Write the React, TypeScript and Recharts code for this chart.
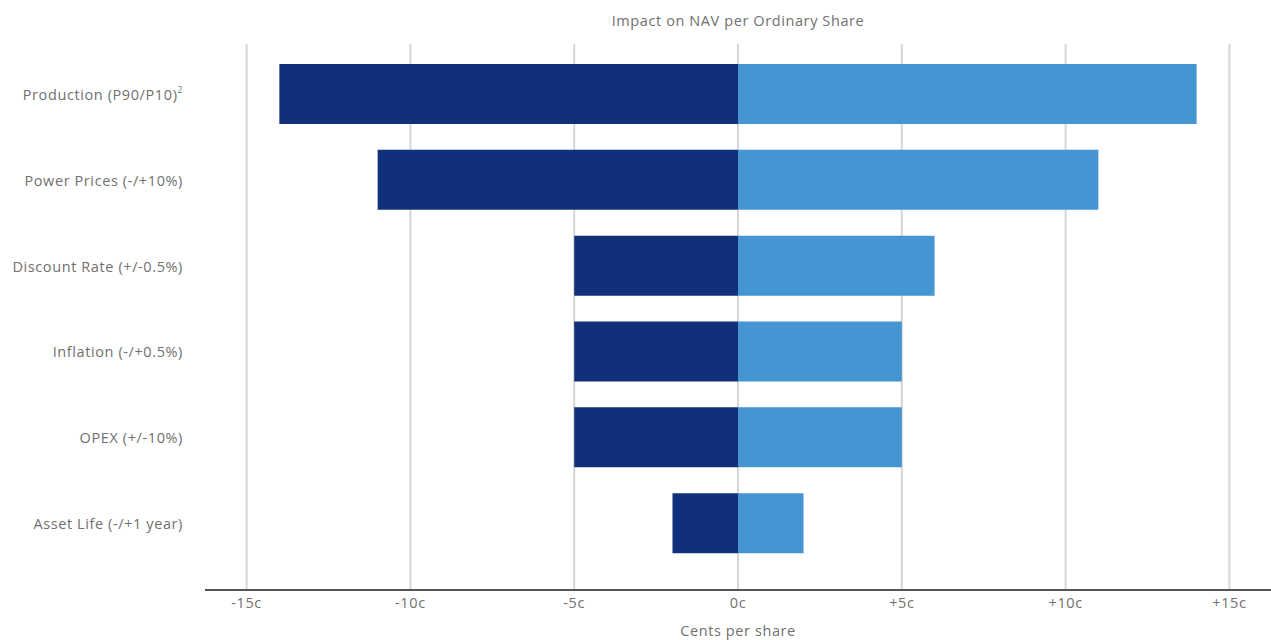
import React from "react";
import {
  BarChart,
  Bar,
  XAxis,
  YAxis,
  CartesianGrid,
} from "recharts";

const categories = [
  "Production (P90/P10)",
  "Power Prices (-/+10%)",
  "Discount Rate (+/-0.5%)",
  "Inflation (-/+0.5%)",
  "OPEX (+/-10%)",
  "Asset Life (-/+1 year)",
];
const footnotes = ["2", "", "", "", "", ""];
const downside = [-14, -11, -5, -5, -5, -2];
const upside = [14, 11, 6, 5, 5, 2];
const xTicks = [-15, -10, -5, 0, 5, 10, 15];
const xDomain = [-16.27, 16.27];

const data = categories.map((name, i) => ({
  name,
  down: downside[i],
  up: upside[i],
}));

const FONT = "'Open Sans', Lato, sans-serif";
const TEXT = "#707070";
const SIZE = 14.5;
const SPACING = 0.6;

function formatCents(v: number) {
  if (v > 0) return `+${v}c`;
  return `${v}c`;
}

// grid lines only at the tick values (no lines at the plot edges)
function gridAtTicks({ xAxis, offset }: any) {
  const scale = xAxis && xAxis.scale;
  if (typeof scale === "function") return xTicks.map((t) => scale(t));
  if (scale && typeof scale.map === "function") return xTicks.map((t) => scale.map(t));
  const [d0, d1] = xDomain;
  return xTicks.map((t) => offset.left + ((t - d0) / (d1 - d0)) * offset.width);
}

function CategoryTick(props: any) {
  const { x, y, payload, index } = props;
  const note = footnotes[index] || "";
  return (
    <text
      x={x}
      y={y}
      textAnchor="end"
      dominantBaseline="central"
      fill={TEXT}
      fontSize={SIZE}
      fontFamily={FONT}
      letterSpacing={SPACING}
    >
      <tspan>{payload.value}</tspan>
      {note ? (
        <tspan fontSize={8.5} dy={-5}>
          {note}
        </tspan>
      ) : null}
    </text>
  );
}

export default function App() {
  return (
    <div style={{ position: "absolute", left: 0, top: 0, width: 1271, height: 640, background: "#fff" }}>
      <div
        style={{
          position: "absolute",
          left: 205,
          width: 1066,
          top: 11,
          textAlign: "center",
          fontFamily: FONT,
          fontSize: SIZE,
          letterSpacing: SPACING,
          lineHeight: "20px",
          color: TEXT,
        }}
      >
        Impact on NAV per Ordinary Share
      </div>
      <BarChart
        width={1271}
        height={640}
        data={data}
        layout="vertical"
        stackOffset="sign"
        barSize={60}
        margin={{ top: 44, right: 0, bottom: 0, left: 0 }}
      >
        <CartesianGrid
          horizontal={false}
          stroke="#d6d6d6"
          strokeWidth={2}
          verticalCoordinatesGenerator={gridAtTicks}
        />
        <XAxis
          type="number"
          domain={xDomain}
          ticks={xTicks}
          allowDataOverflow
          height={50}
          tickLine={false}
          axisLine={{ stroke: "#55554f", strokeWidth: 2 }}
          tick={{ fill: TEXT, fontSize: SIZE, fontFamily: FONT, letterSpacing: SPACING }}
          tickFormatter={formatCents}
          label={{
            value: "Cents per share",
            position: "insideBottom",
            offset: 4,
            fill: TEXT,
            fontSize: SIZE,
            fontFamily: FONT,
            letterSpacing: SPACING,
          }}
        />
        <YAxis
          type="category"
          dataKey="name"
          width={205}
          padding={{ top: 7, bottom: 24 }}
          axisLine={false}
          tickLine={false}
          tickSize={0}
          tickMargin={22}
          tick={<CategoryTick />}
        />
        <Bar dataKey="down" stackId="s" fill="#10307a" isAnimationActive={false} />
        <Bar dataKey="up" stackId="s" fill="#4495d1" isAnimationActive={false} />
      </BarChart>
    </div>
  );
}
